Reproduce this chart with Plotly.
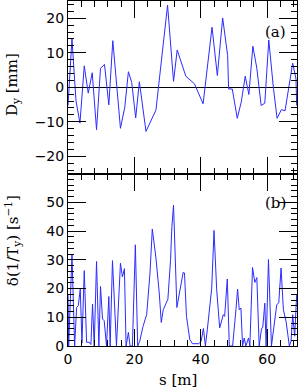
import plotly.graph_objects as go
from plotly.subplots import make_subplots

# Panel (a): vertical dispersion D_y [mm] vs s [m]
s_a = [0.0, 1.2, 2.4, 3.6, 4.9, 6.1, 7.3, 8.6, 9.8, 11.0, 12.3, 13.5, 15.8, 17.1,
       18.2, 19.2, 20.4, 21.5, 23.5, 26.5, 30.0, 31.8, 32.9, 35.5, 38.1, 40.7,
       43.4, 45.0, 46.6, 48.1, 48.4, 49.5, 51.0, 52.2, 53.4, 54.5, 55.7, 56.9,
       58.2, 59.3, 60.5, 61.9, 63.0, 64.3, 65.4, 66.5, 67.7, 68.7, 68.9]
dy_a = [-5.3, 14.0, -3.9, -10.4, 6.2, -1.7, 4.2, -12.3, 5.5, 6.6, -5.1, 13.5, -11.9, -5.8,
        4.5, 1.4, -8.9, 1.6, -12.8, -6.6, 23.8, 1.7, 10.8, 3.2, 1.0, -4.8,
        17.4, 3.4, 20.1, 9.2, -0.5, -0.5, -9.0, -4.3, 3.2, -2.1, 11.9, 5.5,
        -5.3, -4.6, 13.7, -0.3, -9.0, -6.5, -6.8, -0.5, 7.0, 2.4, -5.3]

# Panel (b): delta(1/T_y) [s^-1] vs s [m]
s_b = [0.0, 0.2, 1.2, 2.0, 2.6, 3.1, 3.7, 4.2, 4.9, 5.6, 6.4, 6.9, 7.4, 7.9, 8.6, 9.3,
       9.8, 10.4, 10.9, 11.6, 12.3, 12.7, 13.4, 14.6, 15.8, 16.4, 17.0, 17.5, 18.2,
       18.7, 19.4, 20.3, 21.0, 21.6, 22.6, 23.7, 24.7, 25.4, 26.5, 27.5, 28.1, 28.7,
       30.1, 30.9, 31.3, 31.8, 32.8, 33.3, 34.0, 34.7, 35.1, 35.7, 36.7, 37.5, 39.4,
       40.1, 40.8, 41.4, 42.0, 43.3, 44.0, 44.8, 45.7, 46.8, 47.2, 48.0, 48.6, 49.6,
       50.6, 51.1, 51.6, 52.1, 52.6, 53.1, 53.6, 54.4, 54.8, 55.6, 56.3, 56.9, 57.6,
       58.3, 58.7, 59.3, 59.7, 60.4, 61.3, 61.9, 62.9, 63.5, 64.2, 64.9, 65.7, 66.7,
       67.2, 67.7, 68.3, 68.9]
v_b = [17.8, 0.0, 31.7, 0.0, 13.4, 14.0, 19.8, 1.0, 26.2, 1.3, 1.3, 0.5, 14.6, 0.0, 29.4, 0.0,
       20.7, 9.4, 8.8, 0.0, 17.2, 0.0, 29.7, 0.0, 28.8, 24.0, 26.9, 0.0, 4.7,
       0.0, 0.0, 35.2, 0.0, 1.6, 6.8, 10.9, 25.3, 40.7, 30.6, 18.4, 8.2, 12.6,
       16.3, 30.0, 41.5, 49.0, 13.4, 16.7, 20.7, 25.6, 25.4, 10.3, 2.2, 0.8, 0.8,
       1.6, 6.1, 0.0, 5.9, 20.1, 40.2, 19.6, 6.3, 10.9, 10.3, 23.3, 0.0, 0.0,
       12.6, 19.8, 12.6, 13.2, 0.0, 2.8, 0.0, 2.8, 0.0, 27.3, 22.1, 23.8, 0.0,
       5.9, 6.6, 14.9, 0.0, 30.1, 0.0, 6.3, 14.4, 15.0, 27.1, 12.6, 8.6, 0.0,
       1.6, 10.9, 3.4, 17.8]

x_ticks = [0, 20, 40, 60]

fig = make_subplots(rows=2, cols=1, shared_xaxes=False, vertical_spacing=0.0)

line_style = dict(color="#2b2bff", width=1)
fig.add_trace(go.Scatter(x=s_a, y=dy_a, mode="lines", line=line_style, showlegend=False), row=1, col=1)
fig.add_trace(go.Scatter(x=s_b, y=v_b, mode="lines", line=line_style, showlegend=False), row=2, col=1)

tickfont = dict(family="DejaVu Sans", size=14, color="black")
common_axis = dict(showline=True, linecolor="black", linewidth=1, mirror="ticks",
                   ticks="inside", tickcolor="black", tickwidth=1, showgrid=False,
                   tickfont=tickfont)

fig.update_layout(
    width=300, height=391,
    margin=dict(l=68, r=3, t=1, b=45),
    paper_bgcolor="white", plot_bgcolor="white",
    xaxis=dict(domain=[0, 1], range=[0, 69], tickvals=x_ticks, ticklen=17,
               showticklabels=False, zeroline=False,
               minor=dict(dtick=4, tick0=0, ticklen=6, ticks="inside", tickcolor="black"),
               **common_axis),
    yaxis=dict(domain=[0.5, 1], range=[-25, 25], dtick=10, tick0=0, ticklen=18,
               zeroline=True, zerolinecolor="black", zerolinewidth=1,
               minor=dict(dtick=2, tick0=0, ticklen=6, ticks="inside", tickcolor="black"),
               **common_axis),
    xaxis2=dict(domain=[0, 1], range=[0, 69], tickvals=x_ticks, ticklen=17,
                zeroline=False,
                minor=dict(dtick=4, tick0=0, ticklen=6, ticks="inside", tickcolor="black"),
                **common_axis),
    yaxis2=dict(domain=[0, 0.5], range=[0, 60], tickvals=[0, 10, 20, 30, 40, 50], ticklen=18,
                zeroline=False,
                minor=dict(dtick=2, tick0=0, ticklen=6, ticks="inside", tickcolor="black"),
                **common_axis),
)

serif = dict(family="DejaVu Serif", size=15, color="black")
fig.add_annotation(text="D<sub>y</sub> [mm]", xref="paper", yref="paper",
                   x=-0.2445, y=0.7565, xanchor="center", yanchor="middle",
                   textangle=-90, showarrow=False, font=serif)
fig.add_annotation(text="δ(1/T<sub>y</sub>) [s<sup>−1</sup>]", xref="paper", yref="paper",
                   x=-0.2445, y=0.304, xanchor="center", yanchor="middle",
                   textangle=-90, showarrow=False, font=serif)
fig.add_annotation(text="s [m]", xref="paper", yref="paper",
                   x=0.48, y=-0.0986, xanchor="center", yanchor="middle",
                   showarrow=False, font=serif)
fig.add_annotation(text="(a)", xref="paper", yref="paper",
                   x=0.904, y=0.910, xanchor="center", yanchor="middle",
                   showarrow=False, font=serif)
fig.add_annotation(text="(b)", xref="paper", yref="paper",
                   x=0.904, y=0.4145, xanchor="center", yanchor="middle",
                   showarrow=False, font=serif)

fig.write_html("out.html", config={"displayModeBar": False},
               post_script="document.body.style.margin='0';")
